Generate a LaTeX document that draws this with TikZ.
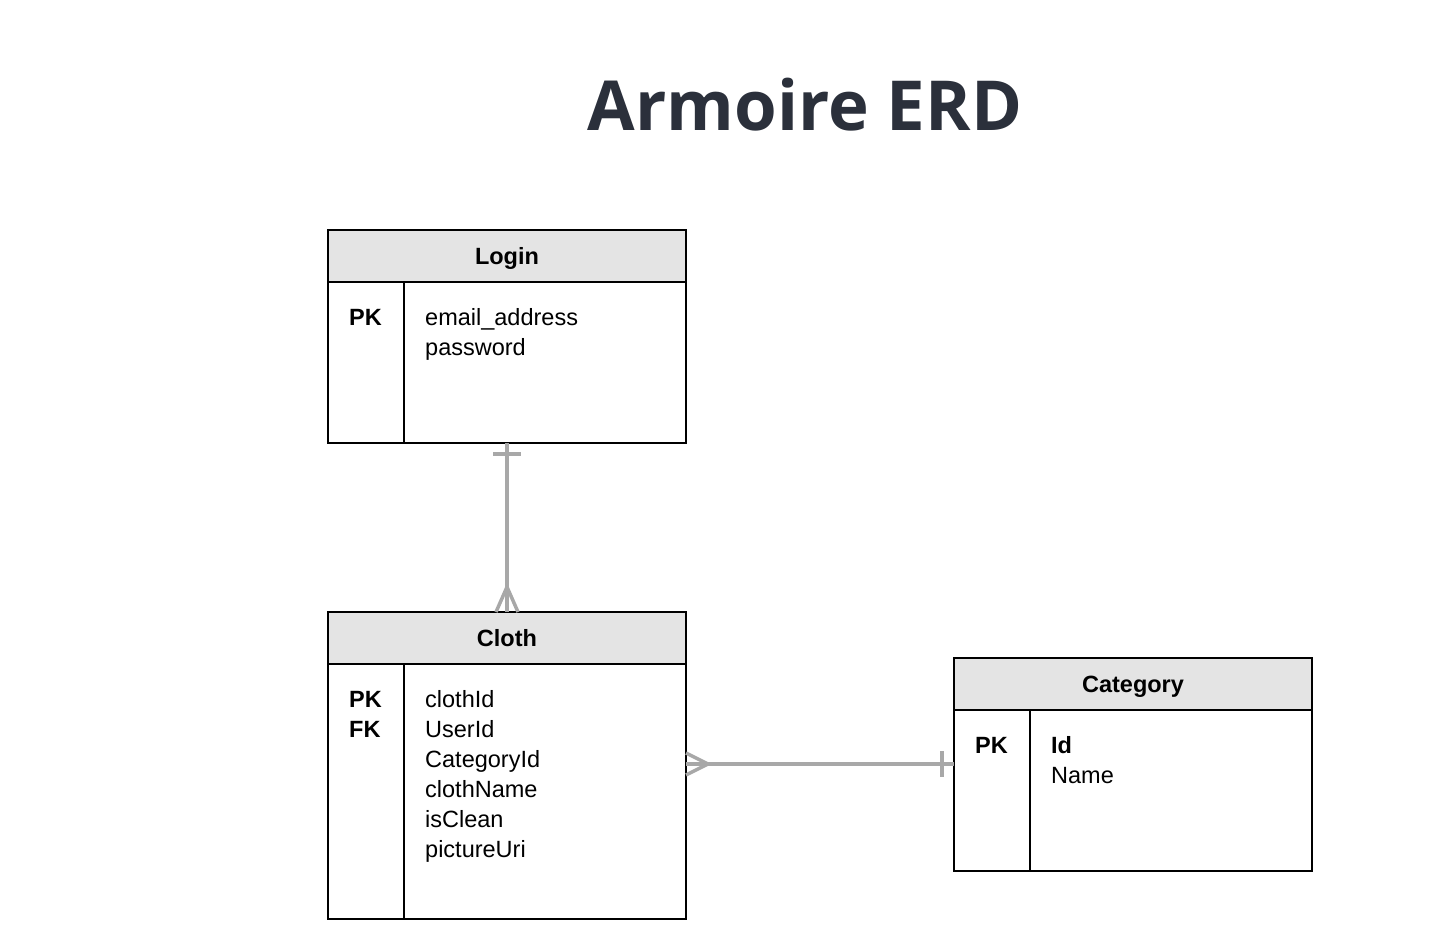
\documentclass[tikz,border=0pt]{standalone}
\usepackage{fontspec}
\setmainfont{Liberation Sans}
\newfontfamily\titlefont{Open Sans}
\usetikzlibrary{calc}
\definecolor{titlecol}{HTML}{2B303B}
\definecolor{hdr}{HTML}{E4E4E4}
\definecolor{conn}{HTML}{A8A8A8}
\begin{document}
\begin{tikzpicture}[x=1pt,y=-1pt,
  hdrbox/.style={draw=black, line width=2pt, fill=hdr, minimum width=358pt, minimum height=52pt,
    inner sep=0pt, outer sep=0pt, anchor=north west, text height=16.8pt, text depth=0pt,
    font=\fontsize{23.5}{30}\selectfont\bfseries},
  bodybox/.style={draw=black, line width=2pt, minimum width=358pt, inner sep=0pt, outer sep=0pt, anchor=north west},
  divline/.style={draw=black, line width=2pt},
  fieldtxt/.style={anchor=base west, inner sep=0pt, font=\fontsize{23.5}{30}\selectfont},
  keytxt/.style={anchor=base west, inner sep=0pt, font=\fontsize{23.5}{30}\selectfont\bfseries},
  connline/.style={draw=conn, line width=3.5pt},
]
\useasboundingbox (0,0) rectangle (1442,942);

% title
\node[anchor=base, inner sep=0pt, text=titlecol, font=\titlefont\fontsize{69}{78}\selectfont\bfseries] (title) at (805,130) {Armoire ERD};

% Login
\node[hdrbox] (loginhdr) at (328,230) {Login};
\node[bodybox, minimum height=161pt] (loginbody) at (328,282) {};
\draw[divline] (404,282) -- (404,443);
\node[keytxt] (loginpk) at (349,325) {PK};
\node[fieldtxt] (loginf1) at (425,325) {email\_address};
\node[fieldtxt] (loginf2) at (425,355) {password};

% Cloth
\node[hdrbox] (clothhdr) at (328,612) {Cloth};
\node[bodybox, minimum height=255pt] (clothbody) at (328,664) {};
\draw[divline] (404,664) -- (404,919);
\node[keytxt] (clothpk) at (349,707) {PK};
\node[keytxt] (clothfk) at (349,737) {FK};
\foreach \t [count=\i] in {clothId,UserId,CategoryId,clothName,isClean,pictureUri}{
  \node[fieldtxt] (clothf\i) at (425,{707+30*(\i-1)}) {\t};
}

% Category
\node[hdrbox] (cathdr) at (954,658) {Category};
\node[bodybox, minimum height=161pt] (catbody) at (954,710) {};
\draw[divline] (1030,710) -- (1030,871);
\node[keytxt] (catpk) at (975,753) {PK};
\node[keytxt] (catf1) at (1051,753) {Id};
\node[fieldtxt] (catf2) at (1051,783) {Name};

% Login -> Cloth (one to many)
\draw[connline] (loginbody.south) -- (clothhdr.north);
\draw[connline] ($(loginbody.south)+(-14,11)$) -- ($(loginbody.south)+(14,11)$);
\draw[connline] ($(clothhdr.north)+(0,-25)$) -- ($(clothhdr.north)+(-11,0)$);
\draw[connline] ($(clothhdr.north)+(0,-25)$) -- ($(clothhdr.north)+(11,0)$);

% Cloth -> Category (many to one)
\coordinate (c1) at ($(clothbody.north east)+(0,100)$);
\coordinate (c2) at ($(catbody.north west)+(0,54)$);
\draw[connline] (c1) -- (c2);
\draw[connline] ($(c1)+(22,0)$) -- ($(c1)+(0,-11)$);
\draw[connline] ($(c1)+(22,0)$) -- ($(c1)+(0,11)$);
\draw[connline] ($(c2)+(-12,-13)$) -- ($(c2)+(-12,13)$);
\end{tikzpicture}
\end{document}
